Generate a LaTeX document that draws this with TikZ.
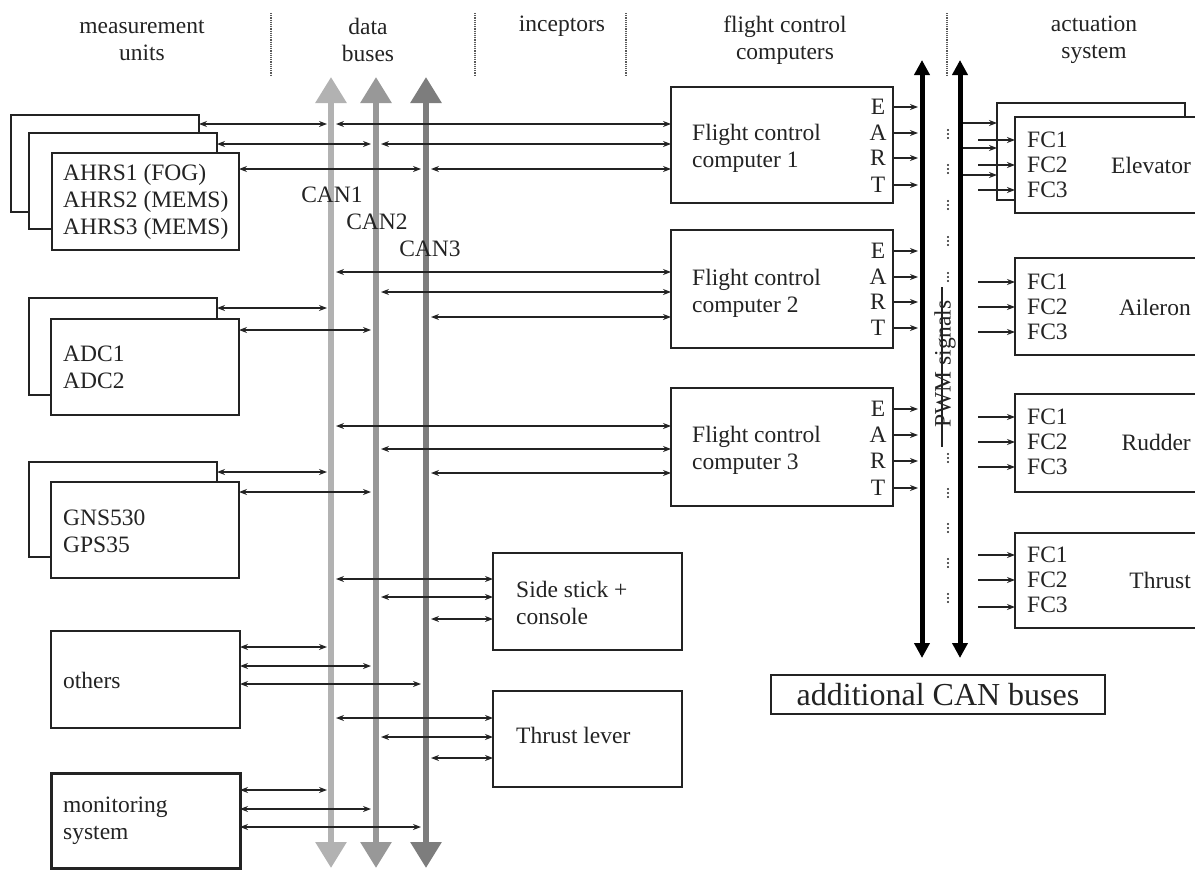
\documentclass[tikz,border=0pt]{standalone}
\usepackage{fontspec}
\setmainfont{Liberation Serif}
\usetikzlibrary{arrows.meta}
\definecolor{ink}{RGB}{35,35,35}
\definecolor{busA}{RGB}{178,178,178}
\definecolor{busB}{RGB}{152,152,152}
\definecolor{busC}{RGB}{125,125,125}
\definecolor{sepc}{RGB}{90,90,90}
\newcommand\mkbox[7][]{\node[box,#1,minimum width={#5-#3},minimum height={#6-#4}] (#2) at ({(#3+#5)/2},{(#4+#6)/2}) {#7};}
\begin{document}
\begin{tikzpicture}[x=1pt,y=-1pt,
  every node/.style={font=\fontsize{23.5}{27}\selectfont, text=ink},
  box/.style={draw=ink, line width=1.4pt, fill=white, inner sep=0pt, outer sep=0pt},
  txt/.style={anchor=west, align=left, inner sep=0pt},
  dbl/.style={draw=ink, line width=1.3pt, {Stealth[length=8pt,width=6pt]}-{Stealth[length=8pt,width=6pt]}},
  sgl/.style={draw=ink, line width=1.3pt, -{Stealth[length=8pt,width=6pt]}},
  bus/.style={line width=6pt, {Triangle[length=26pt,width=30pt]}-{Triangle[length=26pt,width=30pt]}},
  thick bus/.style={draw=black, line width=5pt, {Triangle[length=15pt,width=15pt]}-{Triangle[length=15pt,width=15pt]}},
  sep/.style={draw=sepc, line width=1.2pt, densely dotted},
  hdr/.style={align=center}
]
\useasboundingbox (0,0) rectangle (1195,870);
\clip (0,0) rectangle (1195,870);

% headers
\node[hdr] (h1) at (142,40) {measurement\\units};
\node[hdr] (h2) at (368,40) {data\\buses};
\node[hdr] (h3) at (562,26) {inceptors};
\node[hdr] (h4) at (785,40) {flight control\\computers};
\node[hdr] (h5) at (1094,40) {actuation\\system};
\foreach \x in {271,475,626,947} {\draw[sep] (\x,13) -- (\x,75);}

% bus coordinates
\coordinate (c1t) at (331,77);  \coordinate (c1b) at (331,868);
\coordinate (c2t) at (376,77);  \coordinate (c2b) at (376,868);
\coordinate (c3t) at (426,77);  \coordinate (c3b) at (426,868);
\coordinate (b1L) at (327,0); \coordinate (b1R) at (336,0);
\coordinate (b2L) at (371,0); \coordinate (b2R) at (381,0);
\coordinate (b3L) at (421,0); \coordinate (b3R) at (431,0);
\draw[bus, draw=busA, fill=busA] (c1t) -- (c1b);
\draw[bus, draw=busB, fill=busB] (c2t) -- (c2b);
\draw[bus, draw=busC, fill=busC] (c3t) -- (c3b);
\node (can1) at (332,195) {CAN1};
\node (can2) at (377,222) {CAN2};
\node (can3) at (430,249) {CAN3};

% PWM / additional CAN buses
\coordinate (p1t) at (922,60); \coordinate (p1b) at (922,658);
\coordinate (p2t) at (960,60); \coordinate (p2b) at (960,658);
\coordinate (eL) at (918,0); \coordinate (pR) at (963,0); \coordinate (aS) at (978,0);
\draw[thick bus] (p1t) -- (p1b);
\draw[thick bus] (p2t) -- (p2b);
\foreach \y in {134,169,205,241,277,458,493,528,563,598}
  {\fill[ink] (948,\y-4) circle (1.1pt) (948,\y) circle (1.1pt) (948,\y+4) circle (1.1pt);}
\coordinate (pwmT) at (942,287); \coordinate (pwmB) at (942,447);
\draw[ink, line width=1.3pt] (pwmT) -- (pwmB);
\node[rotate=90] (pwm) at (945,364) {PWM signals};

% measurement units
\mkbox{ahrsA}{11}{115}{199}{212}{}
\mkbox{ahrsB}{29}{133}{217}{229}{}
\mkbox{ahrsC}{52}{153}{239}{250}{}
\node[txt] (ahrsT) at (63,202) {AHRS1 (FOG)\\AHRS2 (MEMS)\\AHRS3 (MEMS)};
\mkbox{adcA}{29}{298}{217}{395}{}
\mkbox{adcB}{51}{319}{239}{415}{}
\node[txt] (adcT) at (63,367) {ADC1\\ADC2};
\mkbox{gpsA}{29}{462}{217}{557}{}
\mkbox{gpsB}{51}{482}{239}{578}{}
\node[txt] (gpsT) at (63,531) {GNS530\\GPS35};
\mkbox{oth}{51}{631}{240}{728}{}
\node[txt] (othT) at (63,680) {others};
\mkbox[line width=3pt]{mon}{51}{773}{240}{868}{}
\node[txt] (monT) at (63,821) {monitoring\\system};

% inceptors
\mkbox{side}{493}{553}{682}{650}{}
\node[txt] (sideT) at (516,603) {Side stick +\\console};
\mkbox{tlev}{493}{691}{682}{787}{}
\node[txt] (tlevT) at (516,735) {Thrust lever};

% flight control computers
\mkbox{fcc1}{671}{87}{893}{203}{}
\node[txt] (fcc1T) at (692,148) {Flight control\\computer 1};
\mkbox{fcc2}{671}{230}{893}{348}{}
\node[txt] (fcc2T) at (692,293) {Flight control\\computer 2};
\mkbox{fcc3}{671}{388}{893}{506}{}
\node[txt] (fcc3T) at (692,450) {Flight control\\computer 3};

% actuation
\mkbox{elevA}{997}{103}{1185}{200}{}
\mkbox{elev}{1015}{117}{1210}{213}{}
\mkbox{ail}{1015}{258}{1210}{355}{}
\mkbox{rud}{1015}{394}{1210}{492}{}
\mkbox{thr}{1015}{533}{1210}{628}{}
\foreach \n/\t/\c in {elev/Elevator/165, ail/Aileron/307, rud/Rudder/442, thr/Thrust/580} {
  \node[txt, font=\fontsize{23.5}{25}\selectfont] (\n fc) at (1027,\c) {FC1\\FC2\\FC3};
  \node[anchor=east, inner sep=0pt] (\n nm) at (1191,\c) {\t};
}

\mkbox[line width=1.6pt, font=\fontsize{32}{36}\selectfont]{addcan}{771}{675}{1105}{714}{additional CAN buses}

% EART outputs
\foreach \f/\ys in {fcc1/{107,133,158,185}, fcc2/{251,277,302,328}, fcc3/{409,435,461,488}} {
  \foreach \y [count=\i] in \ys {
    \ifcase\i\or\def\L{E}\or\def\L{A}\or\def\L{R}\or\def\L{T}\fi
    \node (\f l\i) at (878,\y) {\L};
    \draw[sgl] (\f.east |- 0,\y) -- (eL |- 0,\y);
  }
}

% connectors: measurement units to buses
\draw[dbl] (ahrsA.east |- 0,124) -- (b1L |- 0,124);
\draw[dbl] (ahrsB.east |- 0,144) -- (b2L |- 0,144);
\draw[dbl] (ahrsC.east |- 0,169) -- (b3L |- 0,169);
\draw[dbl] (adcA.east |- 0,308) -- (b1L |- 0,308);
\draw[dbl] (adcB.east |- 0,330) -- (b2L |- 0,330);
\draw[dbl] (gpsA.east |- 0,472) -- (b1L |- 0,472);
\draw[dbl] (gpsB.east |- 0,492) -- (b2L |- 0,492);
\draw[dbl] (oth.east |- 0,647) -- (b1L |- 0,647);
\draw[dbl] (oth.east |- 0,666) -- (b2L |- 0,666);
\draw[dbl] (oth.east |- 0,684) -- (b3L |- 0,684);
\draw[dbl] (mon.east |- 0,790) -- (b1L |- 0,790);
\draw[dbl] (mon.east |- 0,809) -- (b2L |- 0,809);
\draw[dbl] (mon.east |- 0,827) -- (b3L |- 0,827);

% buses to FCCs and inceptors
\foreach \n/\ya/\yb/\yc in {fcc1/124/144/169, fcc2/272/292/317, fcc3/426/449/473, side/579/597/619, tlev/718/737/758} {
  \draw[dbl] (b1R |- 0,\ya) -- (\n.west |- 0,\ya);
  \draw[dbl] (b2R |- 0,\yb) -- (\n.west |- 0,\yb);
  \draw[dbl] (b3R |- 0,\yc) -- (\n.west |- 0,\yc);
}

% PWM lines to actuators
\foreach \y in {123,148,175} {\draw[sgl] (pR |- 0,\y) -- (elevA.west |- 0,\y);}
\foreach \n/\ya/\yb/\yc in {elev/140/165/190, ail/282/307/332, rud/417/442/467, thr/555/580/607} {
  \draw[sgl] (aS |- 0,\ya) -- (\n.west |- 0,\ya);
  \draw[sgl] (aS |- 0,\yb) -- (\n.west |- 0,\yb);
  \draw[sgl] (aS |- 0,\yc) -- (\n.west |- 0,\yc);
}
\end{tikzpicture}
\end{document}
